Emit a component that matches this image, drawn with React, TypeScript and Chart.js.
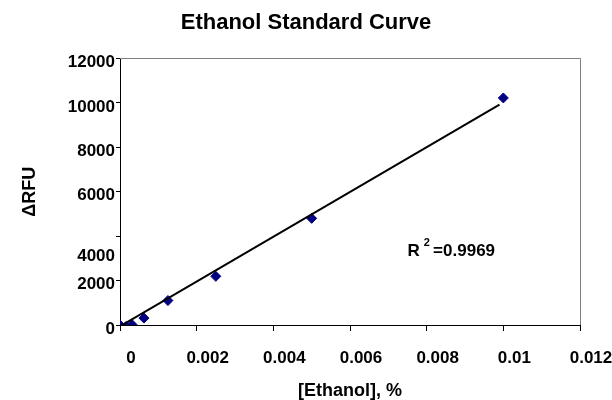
import React, { useEffect, useRef } from "react";
import { Chart, registerables } from "chart.js";

Chart.register(...registerables);

const FONT = "'Liberation Sans', Arial, sans-serif";

// Measured standards
const ethanolPct = [0, 0.00016, 0.0003125, 0.000625, 0.00125, 0.0025, 0.005, 0.01];
const deltaRfu = [0, -70, 20, 310, 1100, 2190, 4800, 10220];

// Trend line (as drawn)
const trendX = [0, 0.0099];
const trendY = [-60, 9920];

// Axis ticks
const xTickValues = [0, 0.002, 0.004, 0.006, 0.008, 0.01, 0.012];
const xTickLabels = ["0", "0.002", "0.004", "0.006", "0.008", "0.01", "0.012"];
const yTickValues = [0, 2000, 3250, 4000, 6000, 8000, 10000, 12000];
const yTickLabels = ["0", "2000", "4000", "", "6000", "8000", "10000", "12000"];
const yTickMarks = [true, true, false, true, true, true, true, true];

// Annotation
const r2Value = "0.9969";
const r2AnchorX = 0.0075;
const r2AnchorY = 3100;

const frameAndLabel = {
  id: "frameAndLabel",
  afterDatasetsDraw(chart: any) {
    const { ctx, chartArea, scales } = chart;
    ctx.save();
    ctx.strokeStyle = "#808080";
    ctx.lineWidth = 1;
    ctx.beginPath();
    ctx.moveTo(chartArea.left, Math.round(chartArea.top) + 0.5);
    ctx.lineTo(Math.round(chartArea.right) + 0.5, Math.round(chartArea.top) + 0.5);
    ctx.lineTo(Math.round(chartArea.right) + 0.5, chartArea.bottom);
    ctx.stroke();

    const x = scales.x.getPixelForValue(r2AnchorX);
    const y = scales.y.getPixelForValue(r2AnchorY);
    ctx.fillStyle = "#000";
    ctx.textBaseline = "alphabetic";
    ctx.textAlign = "left";
    ctx.font = `bold 17px ${FONT}`;
    ctx.fillText("R", x, y);
    const rw = ctx.measureText("R").width;
    ctx.font = `bold 11px ${FONT}`;
    ctx.fillText("2", x + rw + 4, y - 10);
    const sw = ctx.measureText("2").width;
    ctx.font = `bold 17px ${FONT}`;
    ctx.fillText(" =" + r2Value, x + rw + 4 + sw - 1.5, y);
    ctx.restore();
  },
};

export default function App() {
  const ref = useRef<HTMLCanvasElement>(null);

  useEffect(() => {
    if (!ref.current) return;
    const tickFont = { family: FONT, size: 17, weight: "bold" as const };
    const chart = new Chart(ref.current, {
      type: "scatter",
      data: {
        datasets: [
          {
            type: "line",
            data: trendX.map((x, i) => ({ x, y: trendY[i] })),
            borderColor: "#000",
            borderWidth: 2,
            pointRadius: 0,
            fill: false,
          } as any,
          {
            data: ethanolPct.map((x, i) => ({ x, y: deltaRfu[i] })),
            pointStyle: "rectRot",
            pointRadius: 5,
            backgroundColor: "#000080",
            borderColor: "#000080",
            borderWidth: 1,
          },
        ],
      },
      options: {
        animation: false,
        responsive: false,
        devicePixelRatio: 1,
        layout: { padding: { left: 0, right: 0, top: 0, bottom: 0 } },
        plugins: {
          legend: { display: false },
          tooltip: { enabled: false },
          title: {
            display: true,
            text: "Ethanol Standard Curve",
            color: "#000",
            font: { family: FONT, size: 22, weight: "bold" },
            padding: { top: 10, bottom: 22 },
          },
        },
        scales: {
          x: {
            type: "linear",
            min: 0,
            max: 0.012,
            afterBuildTicks: (s: any) => {
              s.ticks = xTickValues.map((v) => ({ value: v }));
            },
            afterFit: (s: any) => {
              s.height = 75;
              s.paddingLeft = 0;
              s.paddingRight = 32;
            },
            ticks: {
              callback: (_v: any, i: number) => xTickLabels[i],
              labelOffset: 11,
              padding: 17,
              color: "#000",
              font: tickFont,
              maxRotation: 0,
              autoSkip: false,
            },
            grid: {
              drawOnChartArea: false,
              drawTicks: true,
              tickLength: 6,
              tickColor: "#000",
            },
            border: { color: "#000", width: 1 },
            title: {
              display: true,
              text: "[Ethanol], %",
              color: "#000",
              font: { family: FONT, size: 18, weight: "bold", lineHeight: 1 },
              padding: { top: 0, bottom: 0 },
            },
          },
          y: {
            type: "linear",
            min: 0,
            max: 12000,
            afterBuildTicks: (s: any) => {
              s.ticks = yTickValues.map((v) => ({ value: v }));
            },
            afterFit: (s: any) => {
              s.width = 120;
            },
            ticks: {
              callback: (_v: any, i: number) => yTickLabels[i],
              labelOffset: 4,
              padding: 1,
              color: "#000",
              font: tickFont,
              autoSkip: false,
            },
            grid: {
              drawOnChartArea: false,
              drawTicks: true,
              tickLength: 4,
              tickColor: (ctx: any) => (yTickMarks[ctx.index] ? "#000" : "rgba(0,0,0,0)"),
            },
            border: { color: "#000", width: 1 },
            title: {
              display: true,
              text: "ΔRFU",
              color: "#000",
              font: { family: FONT, size: 18, weight: "bold" },
              padding: { top: 19, bottom: 0 },
            },
          },
        },
      } as any,
      plugins: [frameAndLabel],
    });
    return () => chart.destroy();
  }, []);

  return (
    <div style={{ position: "fixed", left: 0, top: 0, width: 612, height: 400, background: "#fff" }}>
      <canvas ref={ref} width={612} height={400} style={{ display: "block" }} />
    </div>
  );
}
